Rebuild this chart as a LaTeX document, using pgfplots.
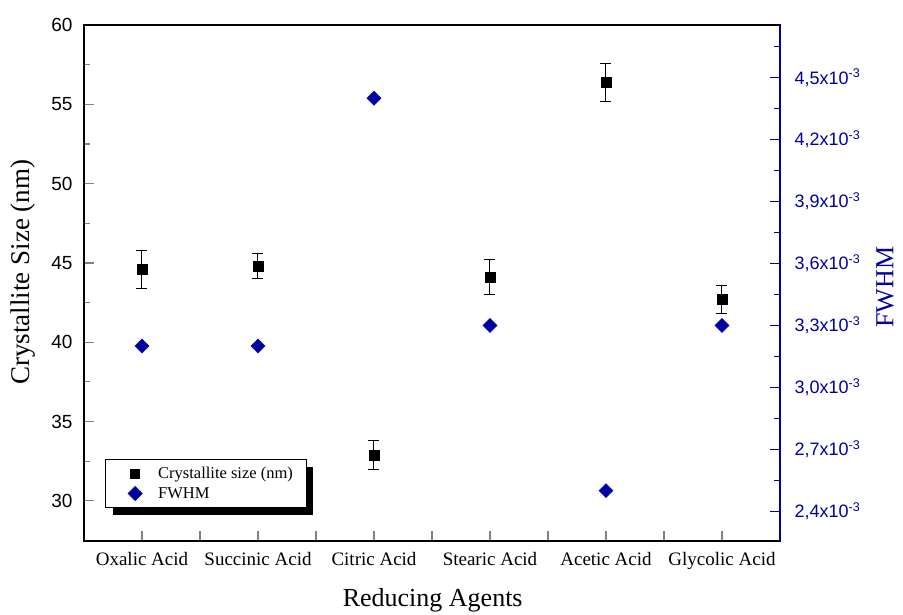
\documentclass[border=0pt]{standalone}
\usepackage{pgfplots}
\pgfplotsset{compat=1.18}
\usepackage{pgfplotstable}
\usepackage{fontspec}
\setmainfont{Liberation Serif}
\newfontfamily\arialf{Liberation Sans}
\usetikzlibrary{shadows}
\definecolor{fblue}{RGB}{0,0,160}

\pgfplotstableread{
x  size  err
0  44.6  1.2
1  44.8  0.8
2  32.9  0.9
3  44.1  1.1
4  56.4  1.2
5  42.7  0.9
}\sizetable

\pgfplotstableread{
x  fwhm
0  0.0032
1  0.0032
2  0.0044
3  0.0033
4  0.0025
5  0.0033
}\fwhmtable

\begin{document}
\begin{tikzpicture}
\useasboundingbox (-84pt,-74pt) rectangle (819pt,541pt);
\pgfplotsset{
  every axis/.append style={
    scale only axis, width=696pt, height=516pt,
    xmin=-0.5, xmax=5.5,
    tick align=inside,
    major tick length=10pt, minor tick length=6pt,
    axis line style={line width=1.6pt},
    tick style={line width=1.2pt},
    /pgf/number format/assume math mode=true,
  }
}
\begin{axis}[
  ymin=27.47, ymax=60,
  ytick={30,35,40,45,50,55,60},
  minor ytick={32.5,37.5,42.5,47.5,52.5,57.5},
  xtick={0,0.5,1,1.5,2,2.5,3,3.5,4,4.5,5},
  xticklabels={Oxalic Acid,,Succinic Acid,,Citric Acid,,Stearic Acid,,Acetic Acid,,Glycolic Acid},
  xtick pos=bottom, ytick pos=left,
  yticklabel style={font=\arialf\fontsize{19}{19}\selectfont, xshift=-8pt},
  xticklabel style={font=\fontsize{19}{19}\selectfont, yshift=-8pt},
  ylabel={Crystallite Size (nm)},
  ylabel style={font=\fontsize{27}{27}\selectfont, at={(axis description cs:-0.0876,0.521)}, anchor=center},
  xlabel={Reducing Agents},
  xlabel style={font=\fontsize{26}{26}\selectfont, at={(axis description cs:0.501,-0.114)}, anchor=center},
]
\addplot[only marks, mark=square*, mark size=5pt, black,
  error bars/.cd, y dir=both, y explicit,
  error bar style={line width=1pt, black},
  error mark options={rotate=90, mark size=5.5pt, line width=1pt, black}]
  table[x=x, y=size, y error=err] {\sizetable};
\end{axis}
\begin{axis}[
  ymin=0.002256, ymax=0.004755,
  axis y line*=right, axis x line=none,
  scaled y ticks=false,
  ytick={0.0024,0.0027,0.0030,0.0033,0.0036,0.0039,0.0042,0.0045},
  yticklabels={2{,}4x10\textsuperscript{-3},2{,}7x10\textsuperscript{-3},3{,}0x10\textsuperscript{-3},3{,}3x10\textsuperscript{-3},3{,}6x10\textsuperscript{-3},3{,}9x10\textsuperscript{-3},4{,}2x10\textsuperscript{-3},4{,}5x10\textsuperscript{-3}},
  minor ytick={0.00255,0.00285,0.00315,0.00345,0.00375,0.00405,0.00435,0.00465},
  y axis line style={fblue},
  y tick style={fblue},
  yticklabel style={fblue, font=\arialf\fontsize{18}{18}\selectfont, xshift=11pt},
  ylabel={FWHM},
  ylabel style={fblue, font=\fontsize{26}{26}\selectfont, at={(axis description cs:1.151,0.492)}, anchor=center},
  legend image code/.code={\pgfpathmoveto{\pgfqpoint{-19pt}{0pt}}\pgfpathlineto{\pgfqpoint{21pt}{0pt}}\pgfusepath{}\draw[#1] plot coordinates {(0pt,0pt)};},
  legend style={at={(axis description cs:0.030,0.064)}, anchor=south west,
    font=\fontsize{16.5}{16.5}\selectfont, draw=black, line width=0.6pt, fill=white,
    drop shadow={shadow xshift=7.5pt, shadow yshift=-7.5pt, fill=black, opacity=1},
    inner xsep=11pt, inner ysep=6pt, row sep=3pt},
  legend cell align=left,
]
\addlegendimage{mark=square*, mark size=4.5pt, black}
\addlegendentry{Crystallite size (nm)}
\addlegendimage{mark=square*, mark size=5pt, mark options={rotate=45}, fblue}
\addlegendentry{FWHM}
\addplot[only marks, mark=square*, mark size=5pt, mark options={rotate=45}, fblue, forget plot]
  table[x=x, y=fwhm] {\fwhmtable};
\end{axis}
\end{tikzpicture}
\end{document}
